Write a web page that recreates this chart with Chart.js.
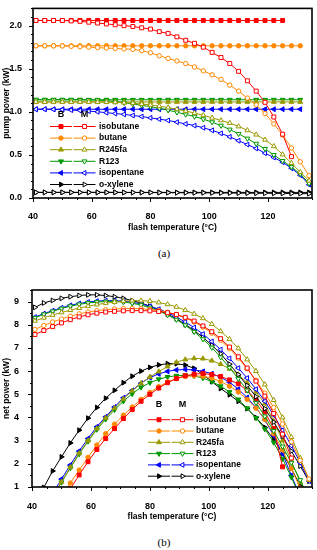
<!DOCTYPE html>
<html>
<head>
<meta charset="utf-8">
<title>Pump power and net power vs flash temperature</title>
<script src="https://cdn.jsdelivr.net/npm/chart.js"></script>
<style>
  body { margin: 0; background: #fff; width: 317px; height: 550px; position: relative; overflow: hidden; }
  canvas { position: absolute; left: 0; }
  #chartA { top: 0; }
  #chartB { top: 270px; }
  .cap { position: absolute; width: 40px; text-align: center; line-height: 13px;
         font: 11px "Liberation Serif", "Times New Roman", serif; color: #000; }
</style>
</head>
<body>
<canvas id="chartA" width="317" height="235"></canvas>
<div class="cap" style="left:144px; top:247px">(a)</div>
<canvas id="chartB" width="317" height="255"></canvas>
<div class="cap" style="left:144px; top:536px">(b)</div>
<script>
// flash temperature grid (degC), shared by every series
var temps = [41, 44, 47, 50, 53, 56, 59, 62, 65, 68, 71, 74, 77, 80, 83, 86,
             89, 92, 95, 98, 101, 104, 107, 110, 113, 116, 119, 122, 125, 128, 131, 134];
var fluids = ['isobutane', 'butane', 'R245fa', 'R123', 'isopentane', 'o-xylene'];
var xTicks = [40, 60, 80, 100, 120];
var pumpTicks = [0, 0.5, 1, 1.5, 2];
var netTicks = [1, 2, 3, 4, 5, 6, 7, 8, 9];

// (a) pump power (kW), B = basic, M = modified
var pumpB_isobutane = [2.06, 2.06, 2.06, 2.06, 2.06, 2.06, 2.06, 2.06, 2.06, 2.06, 2.06, 2.06, 2.06, 2.06, 2.06, 2.06,
                       2.06, 2.06, 2.06, 2.06, 2.06, 2.06, 2.06, 2.06, 2.06, 2.06, 2.06, 2.06, 2.06, null, null, null];
var pumpM_isobutane = [2.06, 2.06, 2.06, 2.06, 2.055, 2.05, 2.04, 2.03, 2.02, 2.01, 2.0, 1.99, 1.975, 1.96, 1.93, 1.91,
                       1.87, 1.83, 1.795, 1.75, 1.69, 1.63, 1.56, 1.47, 1.36, 1.24, 1.11, 0.94, 0.74, 0.48, null, null];
var pumpB_butane = [1.766, 1.766, 1.766, 1.766, 1.766, 1.766, 1.766, 1.766, 1.766, 1.766, 1.766, 1.766, 1.766, 1.766, 1.766, 1.766,
                    1.766, 1.766, 1.766, 1.766, 1.766, 1.766, 1.766, 1.766, 1.766, 1.766, 1.766, 1.766, 1.766, 1.766, 1.766, null];
var pumpM_butane = [1.766, 1.766, 1.765, 1.765, 1.76, 1.755, 1.75, 1.745, 1.74, 1.735, 1.73, 1.725, 1.71, 1.685, 1.65, 1.62,
                    1.59, 1.56, 1.52, 1.475, 1.43, 1.375, 1.31, 1.24, 1.16, 1.08, 0.98, 0.86, 0.73, 0.58, 0.42, 0.26];
var pumpB_R245fa = [1.115, 1.115, 1.115, 1.115, 1.115, 1.115, 1.115, 1.115, 1.115, 1.115, 1.115, 1.115, 1.115, 1.115, 1.115, 1.115,
                    1.115, 1.115, 1.115, 1.115, 1.115, 1.115, 1.115, 1.115, 1.115, 1.115, 1.115, 1.115, 1.115, 1.115, 1.115, null];
var pumpM_R245fa = [1.115, 1.115, 1.115, 1.115, 1.115, 1.115, 1.115, 1.114, 1.112, 1.11, 1.105, 1.1, 1.09, 1.08, 1.065, 1.05,
                    1.03, 1.01, 0.985, 0.96, 0.93, 0.9, 0.87, 0.83, 0.785, 0.735, 0.675, 0.6, 0.505, 0.405, 0.3, 0.2];
var pumpB_R123 = [1.14, 1.14, 1.14, 1.14, 1.14, 1.14, 1.14, 1.14, 1.14, 1.14, 1.14, 1.14, 1.14, 1.14, 1.14, 1.14,
                  1.14, 1.14, 1.14, 1.14, 1.14, 1.14, 1.14, 1.14, 1.14, 1.14, 1.14, 1.14, 1.14, 1.14, 1.14, null];
var pumpM_R123 = [1.14, 1.14, 1.14, 1.14, 1.14, 1.14, 1.138, 1.135, 1.13, 1.12, 1.105, 1.09, 1.075, 1.06, 1.04, 1.02,
                  0.995, 0.97, 0.945, 0.915, 0.88, 0.84, 0.795, 0.745, 0.69, 0.63, 0.57, 0.5, 0.43, 0.36, 0.28, 0.17];
var pumpB_isopentane = [1.03, 1.03, 1.03, 1.03, 1.03, 1.03, 1.03, 1.03, 1.03, 1.03, 1.03, 1.03, 1.03, 1.03, 1.03, 1.03,
                        1.03, 1.03, 1.03, 1.03, 1.03, 1.03, 1.03, 1.03, 1.03, 1.03, 1.03, 1.03, 1.03, 1.03, 1.03, null];
var pumpM_isopentane = [1.03, 1.03, 1.028, 1.025, 1.02, 1.015, 1.008, 1.0, 0.99, 0.98, 0.97, 0.958, 0.945, 0.93, 0.915, 0.9,
                        0.88, 0.86, 0.84, 0.815, 0.785, 0.75, 0.71, 0.665, 0.62, 0.575, 0.52, 0.47, 0.415, 0.345, 0.265, 0.155];
var pumpB_oxylene = [0.065, 0.065, 0.065, 0.065, 0.065, 0.065, 0.065, 0.065, 0.065, 0.065, 0.065, 0.065, 0.065, 0.065, 0.065, 0.065,
                     0.065, 0.065, 0.065, 0.065, 0.065, 0.065, 0.065, 0.065, 0.065, 0.065, 0.065, 0.065, 0.065, 0.065, 0.065, 0.065];
var pumpM_oxylene = [0.065, 0.065, 0.065, 0.065, 0.065, 0.065, 0.065, 0.065, 0.065, 0.065, 0.064, 0.064, 0.063, 0.063, 0.062, 0.062,
                     0.061, 0.061, 0.06, 0.06, 0.059, 0.058, 0.058, 0.057, 0.056, 0.055, 0.055, 0.054, 0.053, 0.052, 0.051, 0.05];

// (b) net power (kW)
var netB_isobutane = [null, null, null, null, 0.92, 1.52, 2.09, 2.62, 3.09, 3.52, 3.95, 4.34, 4.7, 5.0, 5.27, 5.5,
                      5.68, 5.8, 5.87, 5.9, 5.85, 5.77, 5.62, 5.45, 5.17, 4.76, 4.24, 3.52, 1.87, null, null, null];
var netM_isobutane = [7.58, 7.75, 7.92, 8.08, 8.22, 8.34, 8.43, 8.5, 8.55, 8.58, 8.6, 8.61, 8.61, 8.6, 8.57, 8.52,
                      8.44, 8.32, 8.16, 7.95, 7.7, 7.4, 7.04, 6.62, 6.13, 5.57, 4.92, 4.17, 3.28, 2.25, null, null];
var netB_butane = [null, null, null, 0.6, 1.17, 1.73, 2.28, 2.81, 3.3, 3.71, 4.1, 4.45, 4.78, 5.08, 5.33, 5.53,
                   5.68, 5.77, 5.8, 5.78, 5.7, 5.55, 5.35, 5.1, 4.78, 4.4, 3.92, 3.3, 2.6, 1.8, 0.95, null];
var netM_butane = [7.8, 7.97, 8.12, 8.25, 8.37, 8.47, 8.55, 8.61, 8.65, 8.68, 8.7, 8.7, 8.69, 8.66, 8.61, 8.54,
                   8.44, 8.3, 8.12, 7.9, 7.64, 7.33, 6.97, 6.56, 6.1, 5.6, 5.05, 4.43, 3.72, 2.95, 2.15, 1.35];
var netB_R245fa = [null, null, 0.6, 1.22, 1.85, 2.45, 3.0, 3.52, 3.98, 4.4, 4.8, 5.15, 5.47, 5.75, 5.98, 6.2,
                   6.38, 6.5, 6.55, 6.54, 6.45, 6.3, 6.1, 5.85, 5.5, 5.1, 4.6, 3.85, 3.0, 2.12, 1.2, null];
var netM_R245fa = [8.17, 8.3, 8.42, 8.53, 8.63, 8.72, 8.8, 8.87, 8.93, 8.98, 9.02, 9.04, 9.04, 9.02, 8.96, 8.88,
                   8.77, 8.63, 8.47, 8.28, 8.03, 7.72, 7.38, 6.98, 6.5, 6.0, 5.42, 4.75, 4.0, 3.15, 2.25, 1.3];
var netB_R123 = [null, null, 0.58, 1.2, 1.82, 2.42, 2.97, 3.48, 3.92, 4.33, 4.7, 5.02, 5.3, 5.5, 5.65, 5.75,
                 5.8, 5.82, 5.79, 5.7, 5.55, 5.35, 5.1, 4.78, 4.4, 3.98, 3.5, 2.92, 2.22, 1.42, 0.55, null];
var netM_R123 = [8.3, 8.45, 8.58, 8.7, 8.8, 8.88, 8.94, 8.98, 9.0, 9.0, 8.98, 8.93, 8.85, 8.74, 8.6, 8.42,
                 8.22, 7.98, 7.7, 7.38, 7.02, 6.6, 6.15, 5.67, 5.17, 4.63, 4.05, 3.42, 2.75, 2.05, 1.3, 0.5];
var netB_isopentane = [null, null, 0.72, 1.34, 1.95, 2.55, 3.09, 3.6, 4.03, 4.45, 4.85, 5.17, 5.48, 5.72, 5.88, 5.99,
                       6.05, 6.07, 6.05, 5.99, 5.89, 5.74, 5.52, 5.22, 4.86, 4.42, 3.9, 3.22, 2.42, 1.5, 0.6, null];
var netM_isopentane = [8.33, 8.48, 8.61, 8.73, 8.84, 8.92, 8.98, 9.02, 9.04, 9.04, 9.02, 8.97, 8.9, 8.8, 8.67, 8.52,
                       8.33, 8.12, 7.88, 7.6, 7.28, 6.93, 6.55, 6.13, 5.7, 5.22, 4.7, 4.1, 3.45, 2.78, 2.05, 1.25];
var netB_oxylene = [null, 0.98, 1.69, 2.3, 2.9, 3.45, 3.97, 4.43, 4.83, 5.17, 5.5, 5.78, 6.0, 6.16, 6.27, 6.32,
                    6.32, 6.26, 6.12, 5.85, 5.55, 5.25, 4.98, 4.7, 4.38, 4.0, 3.57, 3.05, 2.45, 1.8, 1.05, null];
var netM_oxylene = [8.75, 8.94, 9.05, 9.14, 9.21, 9.26, 9.29, 9.29, 9.26, 9.21, 9.14, 9.04, 8.94, 8.8, 8.63, 8.45,
                    8.26, 8.02, 7.75, 7.46, 7.12, 6.75, 6.3, 5.85, 5.38, 4.9, 4.38, 3.8, 3.18, 2.55, 1.9, 1.25];

var pumpB = [pumpB_isobutane, pumpB_butane, pumpB_R245fa, pumpB_R123, pumpB_isopentane, pumpB_oxylene];
var pumpM = [pumpM_isobutane, pumpM_butane, pumpM_R245fa, pumpM_R123, pumpM_isopentane, pumpM_oxylene];
var netB = [netB_isobutane, netB_butane, netB_R245fa, netB_R123, netB_isopentane, netB_oxylene];
var netM = [netM_isobutane, netM_butane, netM_R245fa, netM_R123, netM_isopentane, netM_oxylene];

// styling per fluid
var colors = ['#ff0000', '#ff8800', '#999900', '#009900', '#0000ff', '#000000'];
var shapes = ['rect', 'circle', 'triangle', 'triangle', 'triangle', 'triangle'];
var rotations = [0, 0, 0, 180, 270, 90];
var radii = [2.8, 2.2, 2.8, 2.8, 2.8, 2.8];

var FONT = '"Liberation Sans", Arial, sans-serif';
Chart.defaults.font.family = FONT;
Chart.defaults.color = '#000';

function pts(vals) {
    return temps.map(function(t, i) { return {x: t, y: vals[i]}; });
}

function makeSets(bSeries, mSeries) {
    var sets = [];
    fluids.forEach(function(name, i) {
        var base = {
            borderColor: colors[i], borderWidth: 1,
            pointStyle: shapes[i], pointRotation: rotations[i], pointRadius: radii[i],
            pointBorderColor: colors[i], pointBorderWidth: 1, tension: 0
        };
        sets.push(Object.assign({}, base, {label: name + ' M', data: pts(mSeries[i]), pointBackgroundColor: '#fff', order: 1}));
        sets.push(Object.assign({}, base, {label: name + ' B', data: pts(bSeries[i]), pointBackgroundColor: colors[i], order: 2}));
    });
    return sets;
}

function drawMarker(ctx, i, x, y, filled) {
    ctx.fillStyle = filled ? colors[i] : '#fff';
    ctx.strokeStyle = colors[i];
    ctx.lineWidth = 1;
    Chart.helpers.drawPoint(ctx, {pointStyle: shapes[i], radius: radii[i], rotation: rotations[i], borderWidth: 1}, x, y);
}

// outward tick marks (major + minor) and the closed frame
var frameTicks = {
    id: 'frameTicks',
    afterDraw: function(chart, args, o) {
        var ctx = chart.ctx, a = chart.chartArea, x = chart.scales.x, y = chart.scales.y;
        ctx.save();
        ctx.strokeStyle = '#000';
        ctx.lineWidth = 1;
        var n = Math.round((x.max - x.min) / o.xMinor);
        for (var k = 0; k <= n; k++) {
            var v = x.min + k * o.xMinor;
            var px = Math.round(x.getPixelForValue(v)) + 0.5;
            var major = Math.abs(v / o.xMajor - Math.round(v / o.xMajor)) < 1e-6;
            ctx.beginPath(); ctx.moveTo(px, a.bottom); ctx.lineTo(px, a.bottom + (major ? 4 : 2)); ctx.stroke();
        }
        n = Math.round((y.max - y.min) / o.yMinor);
        for (k = 0; k <= n; k++) {
            v = y.min + k * o.yMinor;
            var py = Math.round(y.getPixelForValue(v)) + 0.5;
            major = Math.abs(v / o.yMajor - Math.round(v / o.yMajor)) < 1e-6;
            ctx.beginPath(); ctx.moveTo(a.left, py); ctx.lineTo(a.left - (major ? 4 : 2), py); ctx.stroke();
        }
        ctx.lineWidth = 1.6;
        ctx.strokeRect(a.left, a.top, a.right - a.left, a.bottom - a.top);
        ctx.restore();
    }
};

// legend with a B (filled) and an M (open) sample on each row
var pairLegend = {
    id: 'pairLegend',
    afterDraw: function(chart, args, o) {
        var ctx = chart.ctx, half = 11;
        ctx.save();
        ctx.fillStyle = '#000';
        ctx.textBaseline = 'middle';
        ctx.textAlign = 'center';
        ctx.font = 'bold 9px ' + FONT;
        ctx.fillText('B', o.bx, o.headY);
        ctx.fillText('M', o.mx, o.headY);
        fluids.forEach(function(name, i) {
            var yy = o.rowY + i * o.rowH;
            ctx.strokeStyle = colors[i];
            ctx.lineWidth = 1;
            ctx.beginPath();
            ctx.moveTo(o.bx - half, yy); ctx.lineTo(o.bx + half, yy);
            ctx.moveTo(o.mx - half, yy); ctx.lineTo(o.mx + half, yy);
            ctx.stroke();
            drawMarker(ctx, i, o.bx, yy, true);
            drawMarker(ctx, i, o.mx, yy, false);
            ctx.fillStyle = '#000';
            ctx.textAlign = 'left';
            ctx.font = 'bold 8.5px ' + FONT;
            ctx.fillText(name, o.textX, yy);
        });
        ctx.restore();
    }
};

function makeChart(id, o) {
    return new Chart(document.getElementById(id), {
        type: 'line',
        data: { datasets: makeSets(o.b, o.m) },
        options: {
            responsive: false,
            animation: false,
            devicePixelRatio: 1,
            layout: { padding: { top: o.padTop, right: 4, left: 0, bottom: 0 } },
            plugins: {
                legend: { display: false },
                tooltip: { enabled: false },
                frameTicks: o.ticks,
                pairLegend: o.legend
            },
            scales: {
                x: {
                    type: 'linear', min: 40, max: 135,
                    grid: { display: false }, border: { display: false },
                    afterBuildTicks: function(s) { s.ticks = xTicks.map(function(v) { return {value: v}; }); },
                    afterFit: function(s) { s.height = o.xHeight; },
                    ticks: { font: { size: 9, weight: 'bold' }, padding: o.xPad, maxRotation: 0 },
                    title: { display: true, text: 'flash temperature (\u00B0C)', font: { size: 8.5, weight: 'bold' },
                             padding: { top: 0, bottom: o.xTitlePad } }
                },
                y: {
                    min: o.yMin, max: o.yMax,
                    grid: { display: false }, border: { display: false },
                    afterBuildTicks: function(s) { s.ticks = o.yTicks.map(function(v) { return {value: v}; }); },
                    afterFit: function(s) { s.width = o.yWidth; },
                    ticks: { font: { size: 9, weight: 'bold' }, padding: o.yPad, callback: o.yFmt },
                    title: { display: true, text: o.yTitle, font: { size: 8.5, weight: 'bold' },
                             padding: { top: 2, bottom: 0 } }
                }
            }
        },
        plugins: [frameTicks, pairLegend]
    });
}

makeChart('chartA', {
    b: pumpB, m: pumpM, padTop: 4, xHeight: 37, yWidth: 33, xPad: 5, yPad: 3, xTitlePad: 2,
    yMin: 0, yMax: 2.2, yTicks: pumpTicks, yTitle: 'pump power (kW)',
    yFmt: function(v) { return v.toFixed(1); },
    ticks: { xMinor: 5, xMajor: 20, yMinor: 0.1, yMajor: 0.5 },
    legend: { bx: 61, mx: 84.5, textX: 99, headY: 115, rowY: 126.5, rowH: 11.6 }
});

makeChart('chartB', {
    b: netB, m: netM, padTop: 20, xHeight: 38, yWidth: 32, xPad: 6, yPad: 5, xTitlePad: 3,
    yMin: 1, yMax: 9.5, yTicks: netTicks, yTitle: 'net power (kW)',
    yFmt: function(v) { return String(v); },
    ticks: { xMinor: 5, xMajor: 20, yMinor: 0.5, yMajor: 1 },
    legend: { bx: 159, mx: 182.5, textX: 196, headY: 135, rowY: 149.7, rowH: 11.3 }
});
</script>
</body>
</html>
